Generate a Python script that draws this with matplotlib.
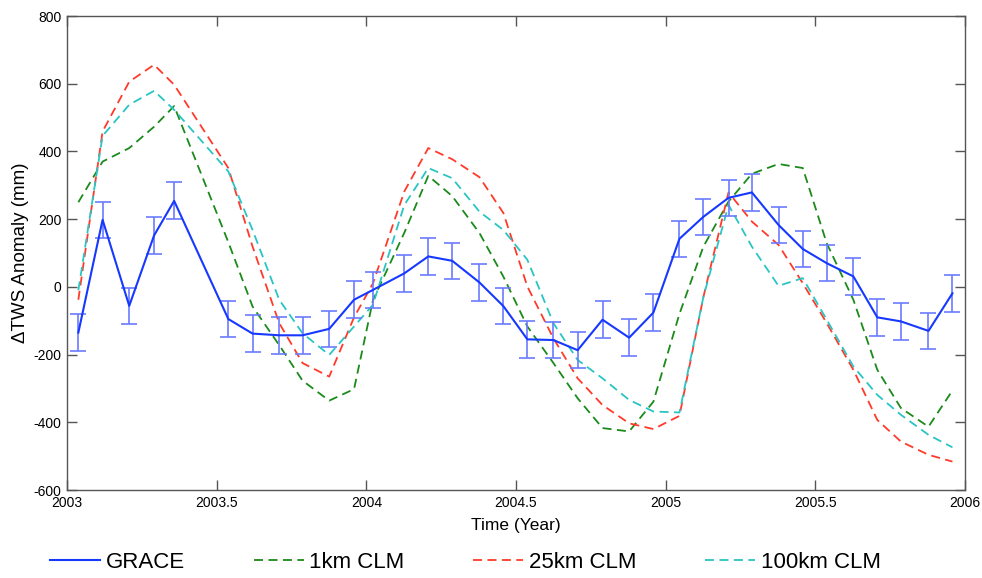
import numpy as np
import matplotlib
matplotlib.use("Agg")
import matplotlib.pyplot as plt

plt.rcParams["font.family"] = ["Liberation Sans", "DejaVu Sans"]
plt.rcParams["axes.unicode_minus"] = False

# GRACE sample dates (decimal year), June 2003 missing
time = [2003.038, 2003.119, 2003.208, 2003.291, 2003.358, 2003.539, 2003.620,
        2003.709, 2003.787, 2003.876, 2003.959, 2004.022, 2004.127, 2004.207,
        2004.287, 2004.378, 2004.458, 2004.538, 2004.625, 2004.706, 2004.789,
        2004.878, 2004.959, 2005.046, 2005.126, 2005.210, 2005.288, 2005.377,
        2005.458, 2005.538, 2005.627, 2005.707, 2005.786, 2005.878, 2005.958]

grace = [-135, 198, -56, 152, 254, -95, -138, -143, -143, -124, -38, -9, 40, 90,
         77, 13, -57, -155, -157, -187, -97, -150, -76, 142, 207, 263, 279, 183,
         112, 70, 31, -90, -102, -130, -19]
grace_err = [54, 54, 54, 54, 55, 54, 54, 54, 54, 54, 54, 54, 54, 54,
             54, 54, 54, 54, 54, 54, 54, 54, 54, 54, 54, 54, 54, 54,
             54, 54, 54, 54, 54, 54, 54]

clm_1km = [250, 370, 410, 473, 534, 132, -58, -172, -277, -336, -302, -40, 160, 328,
           268, 159, 30, -117, -225, -329, -417, -427, -339, -80, 119, 252, 334, 363,
           351, 129, -38, -245, -358, -413, -306]
clm_25km = [-38, 459, 606, 656, 597, 351, 119, -107, -225, -265, -90, 10, 282, 410,
            377, 324, 218, 1, -152, -270, -349, -403, -420, -381, -30, 279, 193, 124,
            11, -107, -245, -393, -457, -496, -516]
clm_100km = [-10, 446, 538, 579, 523, 341, 168, -38, -137, -201, -117, -53, 242, 351,
             321, 222, 168, 80, -107, -216, -270, -334, -368, -371, -30, 242, 119, 3,
             26, -97, -235, -319, -378, -437, -474]

xticks = [2003, 2003.5, 2004, 2004.5, 2005, 2005.5, 2006]
xticklabels = ["2003", "2003.5", "2004", "2004.5", "2005", "2005.5", "2006"]
yticks = [-600, -400, -200, 0, 200, 400, 600, 800]

fig = plt.figure(figsize=(9.82, 5.78), dpi=100)
ax = fig.add_axes([0.0682, 0.1522, 0.9145, 0.8201])

eb = ax.errorbar(time, grace, yerr=grace_err, color="#1638ff", ecolor="#6a7cff",
                 elinewidth=1.2, capsize=6, capthick=1.2, linewidth=1.5,
                 label="GRACE", zorder=3)
dash = (5, 3)
l1, = ax.plot(time, clm_1km, color="#1a8a1a", linewidth=1.3, dashes=dash, label="1km CLM")
l2, = ax.plot(time, clm_25km, color="#ff3a2a", linewidth=1.3, dashes=dash, label="25km CLM")
l3, = ax.plot(time, clm_100km, color="#2ac4c4", linewidth=1.3, dashes=dash, label="100km CLM")

ax.set_xlim(2003, 2006)
ax.set_ylim(-600, 800)
ax.set_xticks(xticks)
ax.set_xticklabels(xticklabels)
ax.set_yticks(yticks)
ax.tick_params(direction="in", top=True, right=True, length=7, width=1,
               color="#555555", labelsize=10, pad=4)
for s in ax.spines.values():
    s.set_color("#555555")
    s.set_linewidth(1)

ax.set_xlabel("Time (Year)", fontsize=12.5, labelpad=6)
ax.set_ylabel("ΔTWS Anomaly (mm)", fontsize=13.5, labelpad=3)

fig.legend([eb.lines[0], l1, l2, l3], ["GRACE", "1km CLM", "25km CLM", "100km CLM"],
           loc="center left", bbox_to_anchor=(50 / 982, 0.027), ncol=4, frameon=False,
           fontsize=16, handlelength=2.25, handletextpad=0.25, columnspacing=3.1,
           borderpad=0, borderaxespad=0)

fig.savefig("out.png", dpi=100)
